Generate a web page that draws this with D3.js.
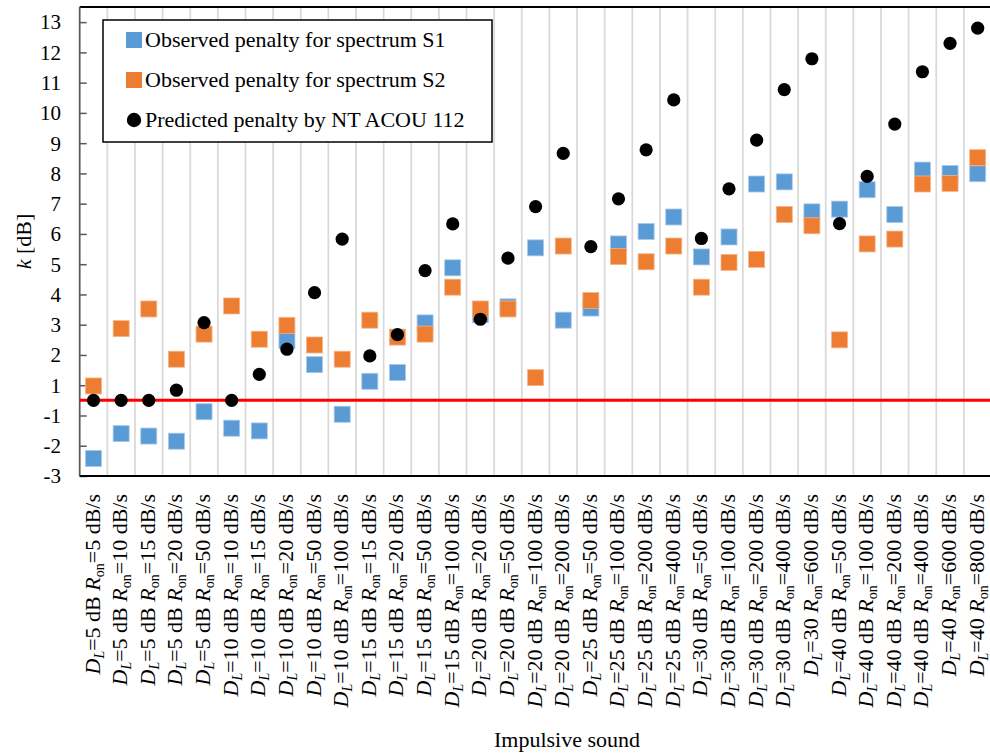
<!DOCTYPE html>
<html>
<head>
<meta charset="utf-8">
<script src="https://cdn.jsdelivr.net/npm/d3@7"></script>
<style>
  body { margin: 0; background: #fff; }
  text { font-family: "Liberation Serif", "Times New Roman", serif; fill: #000; }
</style>
</head>
<body>
<svg id="penaltyChart"></svg>
<script>
// categories: D_L (dB), R_on (dB/s), whether the "dB" after D_L is printed
const dlValues = [5, 5, 5, 5, 5, 10, 10, 10, 10, 10, 15, 15, 15, 15, 20, 20, 20, 20, 25, 25, 25, 25, 30, 30, 30, 30, 30, 40, 40, 40, 40, 40, 40];
const ronValues = [5, 10, 15, 20, 50, 10, 15, 20, 50, 100, 15, 20, 50, 100, 20, 50, 100, 200, 50, 100, 200, 400, 50, 100, 200, 400, 600, 50, 100, 200, 400, 600, 800];
const showDb = [1, 1, 1, 1, 1, 1, 1, 1, 1, 1, 1, 1, 1, 1, 1, 1, 1, 1, 1, 1, 1, 1, 1, 1, 1, 1, 0, 1, 1, 1, 1, 0, 0];

// k [dB] values
const observedS1 = [-2.42, -1.60, -1.68, -1.85, -0.75, -1.42, -1.51, 2.48, 1.68, -0.92, 1.13, 1.42, 3.06, 4.88, 3.33, 3.59, 5.54, 3.15, 3.55, 5.67, 6.08, 6.56, 5.24, 5.90, 7.65, 7.72, 6.73, 6.82, 7.46, 6.64, 8.11, 8.00, 7.99];
const observedS2 = [0.95, 2.87, 3.52, 1.86, 2.69, 3.62, 2.52, 2.98, 2.33, 1.86, 3.15, 2.59, 2.69, 4.24, 3.52, 3.52, 1.25, 5.60, 3.80, 5.25, 5.08, 5.60, 4.24, 5.06, 5.16, 6.64, 6.27, 2.50, 5.67, 5.83, 7.65, 7.67, 8.52];
const predicted = [0, 0, 0, 0.67, 3.07, 0, 1.36, 2.19, 4.06, 5.83, 1.97, 2.67, 4.79, 6.33, 3.18, 5.20, 6.90, 8.66, 5.58, 7.16, 8.78, 10.43, 5.85, 7.49, 9.10, 10.77, 11.79, 6.34, 7.90, 9.63, 11.36, 12.30, 12.80];

// y ticks (no zero on this axis, 1 and -1 sit next to each other)
const yTickValues = [-3, -2, -1, 1, 2, 3, 4, 5, 6, 7, 8, 9, 10, 11, 12, 13];
const legendLabels = ['Observed penalty for spectrum S1', 'Observed penalty for spectrum S2', 'Predicted penalty by NT ACOU 112'];
const refLine = 0;

const width = 990;
const height = 755;
const marginLeft = 79.7;
const plotRight = 991.5;
const plotTop = 7;
const plotBottom = 476;

const blue = '#5b9bd5';
const orange = '#ed7d31';

const svg = d3.select('#penaltyChart')
  .attr('width', width)
  .attr('height', height)
  .attr('viewBox', [0, 0, width, height]);

const cats = d3.range(dlValues.length);

const x = d3.scaleBand()
  .domain(cats)
  .range([marginLeft, plotRight])
  .paddingInner(0)
  .paddingOuter(0);

// piecewise scale: -3..-1 and 1..13.5 at one unit per tick, -1..1 squeezed into one step
const unit = (plotBottom - plotTop) / 15.5;
const y = d3.scaleLinear()
  .domain([-3, -1, 1, 13.5])
  .range([plotBottom, plotBottom - 2 * unit, plotBottom - 3 * unit, plotTop]);

/** GRIDLINES (vertical, between categories) */
svg.append('g')
  .selectAll('line')
  .data(cats.slice(1))
  .join('line')
  .attr('x1', (d) => x(d))
  .attr('x2', (d) => x(d))
  .attr('y1', plotTop)
  .attr('y2', plotBottom)
  .style('stroke', '#d9d9d9')
  .style('stroke-width', 1.75);

// top border
svg.append('line')
  .attr('x1', marginLeft).attr('x2', plotRight)
  .attr('y1', plotTop).attr('y2', plotTop)
  .style('stroke', '#000').style('stroke-width', 2);

/** Y AXIS */
const yAxis = svg.append('g')
  .attr('transform', `translate(${marginLeft},0)`)
  .call(d3.axisRight(y).tickValues(yTickValues).tickSize(7).tickFormat(''));
yAxis.select('.domain').remove();
yAxis.selectAll('.tick line').style('stroke', '#595959').style('stroke-width', 1.5);
svg.append('line')
  .attr('x1', marginLeft).attr('x2', marginLeft)
  .attr('y1', plotTop).attr('y2', plotBottom)
  .style('stroke', '#595959').style('stroke-width', 1.75);

svg.append('g')
  .selectAll('text')
  .data(yTickValues)
  .join('text')
  .attr('x', 61)
  .attr('y', (d) => y(d))
  .attr('dy', '0.35em')
  .attr('text-anchor', 'end')
  .style('font-size', '21px')
  .text((d) => d);

const yTitle = svg.append('text')
  .attr('transform', `translate(31,${(plotTop + plotBottom) / 2}) rotate(-90)`)
  .attr('text-anchor', 'middle')
  .style('font-size', '22px');
yTitle.append('tspan').style('font-style', 'italic').text('k');
yTitle.append('tspan').text(' [dB]');

/** RED REFERENCE LINE */
svg.append('line')
  .attr('x1', marginLeft).attr('x2', plotRight)
  .attr('y1', y(refLine)).attr('y2', y(refLine))
  .style('stroke', '#ff0000')
  .style('stroke-width', 3);

// x axis line
svg.append('line')
  .attr('x1', marginLeft).attr('x2', plotRight)
  .attr('y1', plotBottom).attr('y2', plotBottom)
  .style('stroke', '#000').style('stroke-width', 2);

/** CATEGORY LABELS (rotated) */
const labels = svg.append('g')
  .selectAll('text')
  .data(cats)
  .join('text')
  .attr('transform', (d) => `translate(${x(d) + x.bandwidth() / 2 + 6},494) rotate(-90)`)
  .attr('text-anchor', 'end')
  .style('font-size', '22px');

labels.each(function (i) {
  const t = d3.select(this);
  t.append('tspan').style('font-style', 'italic').text('D');
  t.append('tspan').style('font-style', 'italic').style('font-size', '14px').attr('dy', 4).text('L');
  t.append('tspan').attr('dy', -4).text(`=${dlValues[i]}${showDb[i] ? ' dB' : ''} `);
  t.append('tspan').style('font-style', 'italic').text('R');
  t.append('tspan').style('font-size', '14px').attr('dy', 4).text('on');
  t.append('tspan').attr('dy', -4).text(`=${ronValues[i]} dB/s`);
});

svg.append('text')
  .attr('x', 567)
  .attr('y', 747)
  .attr('text-anchor', 'middle')
  .style('font-size', '22px')
  .text('Impulsive sound');

/** MARKERS */
const sq = 16;
svg.append('g')
  .selectAll('rect')
  .data(observedS1)
  .join('rect')
  .attr('x', (d, i) => x(i) + x.bandwidth() / 2 - sq / 2)
  .attr('y', (d) => y(d) - sq / 2)
  .attr('width', sq)
  .attr('height', sq)
  .style('fill', blue)
  .style('stroke', '#a8c9e9')
  .style('stroke-width', 0.8);

svg.append('g')
  .selectAll('rect')
  .data(observedS2)
  .join('rect')
  .attr('x', (d, i) => x(i) + x.bandwidth() / 2 - sq / 2)
  .attr('y', (d) => y(d) - sq / 2)
  .attr('width', sq)
  .attr('height', sq)
  .style('fill', orange)
  .style('stroke', '#f5b48b')
  .style('stroke-width', 0.8);

svg.append('g')
  .selectAll('circle')
  .data(predicted)
  .join('circle')
  .attr('cx', (d, i) => x(i) + x.bandwidth() / 2)
  .attr('cy', (d) => y(d))
  .attr('r', 6.6)
  .style('fill', '#000');

/** LEGEND */
const legend = svg.append('g');
legend.append('rect')
  .attr('x', 103).attr('y', 20)
  .attr('width', 389).attr('height', 122)
  .style('fill', '#fff')
  .style('stroke', '#000')
  .style('stroke-width', 1.5);

legendLabels.forEach((lab, i) => {
  const cy = 40 + i * 40;
  if (i < 2) {
    legend.append('rect')
      .attr('x', 126).attr('y', cy - 8)
      .attr('width', sq).attr('height', sq)
      .style('fill', i === 0 ? blue : orange);
  } else {
    legend.append('circle').attr('cx', 134).attr('cy', cy).attr('r', 7.2).style('fill', '#000');
  }
  legend.append('text')
    .attr('x', 145)
    .attr('y', cy + 7)
    .style('font-size', '22px')
    .text(lab);
});
</script>
</body>
</html>
